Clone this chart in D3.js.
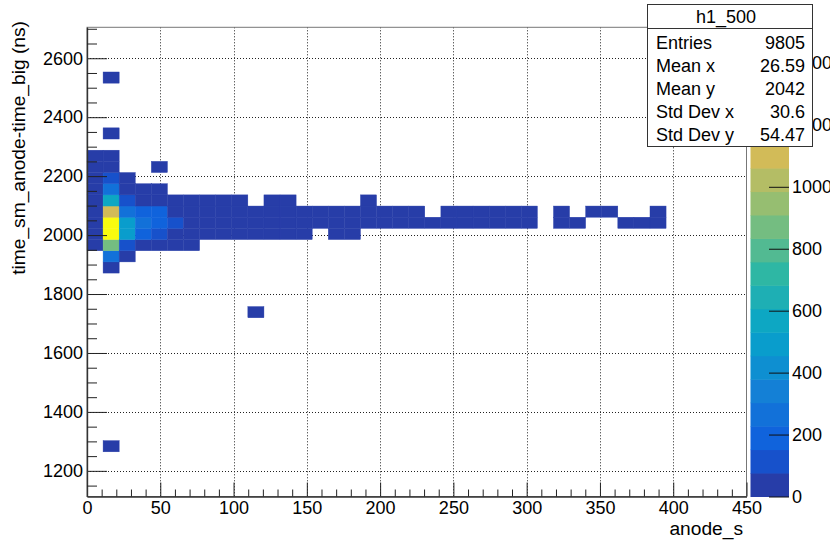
<!DOCTYPE html>
<html>
<head>
<meta charset="utf-8">
<script src="https://cdn.jsdelivr.net/npm/d3@7"></script>
<style>
  body { margin: 0; background: #fff; }
  svg { display: block; }
  text { font-family: "Liberation Sans", Arial, Helvetica, sans-serif; fill: #000; }
</style>
</head>
<body>
<svg id="chart" width="830" height="540"></svg>
<script>
// ---- histogram h1_500 : anode_s vs time_sm_anode-time_big ----
const xRange = [0, 450];
const nBinsX = 41;
const yRange = [1113, 2705];
const nBinsY = 42;

// filled cells, stored as vertical runs: x bin, first y bin (from bottom), entries going up
const runBinX = [0, 1, 1, 1, 1, 2, 3, 4, 4, 5, 6, 7, 8, 9, 10, 10, 11, 12, 13, 14, 15, 16, 17, 18, 19, 20,
                 21, 22, 23, 24, 25, 26, 27, 29, 30, 31, 32, 33, 34, 35];
const runBinY = [22, 4, 20, 32, 37, 21, 22, 22, 29, 22, 22, 23, 23, 23, 23, 16, 23, 23, 23, 24, 23, 23, 24, 24, 24, 24,
                 24, 24, 24, 24, 24, 24, 24, 24, 24, 25, 25, 24, 24, 24];
const runCounts = [
  [30, 45, 50, 48, 40, 35, 30, 25, 20],
  [1],
  [40, 240, 850, 1450, 1515, 1090, 550, 240, 100, 35, 22],
  [1],
  [1],
  [30, 110, 470, 465, 235, 100, 50, 35],
  [40, 170, 240, 200, 50, 25],
  [30, 110, 190, 160, 40, 20],
  [2],
  [15, 60, 130, 65, 25],
  [8, 40, 65, 50, 20],
  [20, 45, 40, 15],
  [18, 40, 35, 12],
  [15, 38, 32, 10],
  [12, 30, 25],
  [1],
  [10, 28, 24, 6],
  [9, 26, 22, 5],
  [8, 24, 20],
  [22, 18],
  [6, 20, 16],
  [5, 19, 15],
  [17, 14, 3],
  [16, 12],
  [15, 11],
  [14, 10],
  [12],
  [12, 8],
  [11, 8],
  [10, 7],
  [10, 7],
  [9, 6],
  [8, 5],
  [6, 3],
  [5],
  [3],
  [3],
  [3],
  [3],
  [2, 2]
];

// axis ticks
const xTicks = [0, 50, 100, 150, 200, 250, 300, 350, 400, 450];
const yTicks = [1200, 1400, 1600, 1800, 2000, 2200, 2400, 2600];
const zTicks = [0, 200, 400, 600, 800, 1000, 1200, 1400];

// statistics box
const statsTitle = "h1_500";
const statsNames = ["Entries", "Mean x", "Mean y", "Std Dev x", "Std Dev y"];
const statsValues = ["9805", "26.59", "2042", "30.6", "54.47"];

// ---- layout ----
const frame = { left: 87, right: 746.5, top: 27.3, bottom: 496.5 };
const bar = { left: 750.5, right: 789 };
const nContours = 20;

const svg = d3.select("#chart");

const x = d3.scaleLinear().domain(xRange).range([frame.left, frame.right]);
const y = d3.scaleLinear().domain(yRange).range([frame.bottom, frame.top]);

// expand runs into cells
const cells = [];
runBinX.forEach((bx, k) => {
  runCounts[k].forEach((n, j) => cells.push({ ix: bx, iy: runBinY[k] + j, n }));
});

const zMax = d3.max(cells, d => d.n);
const z = d3.scaleLinear().domain([0, zMax]).range([frame.bottom, frame.top]);

// kBird palette
const birdStops = [0.0000, 0.1250, 0.2500, 0.3750, 0.5000, 0.6250, 0.7500, 0.8750, 1.0000];
const birdR = [0.2082, 0.0592, 0.0780, 0.0232, 0.1802, 0.5301, 0.8186, 0.9956, 0.9764];
const birdG = [0.1664, 0.3599, 0.5041, 0.6419, 0.7178, 0.7492, 0.7328, 0.7862, 0.9832];
const birdB = [0.5293, 0.8684, 0.8385, 0.7914, 0.6425, 0.4662, 0.3499, 0.1968, 0.0539];
const bird = d3.scaleLinear()
  .domain(birdStops)
  .range(birdStops.map((s, i) => d3.rgb(birdR[i] * 255, birdG[i] * 255, birdB[i] * 255).toString()))
  .interpolate(d3.interpolateRgb);

const nPalette = 255;
function levelColor(level) {
  const idx = Math.floor((level + 0.99) * nPalette / nContours);
  return bird(Math.min(idx, nPalette - 1) / (nPalette - 1));
}
function levelOf(n) {
  return Math.min(nContours - 1, Math.floor(0.01 + n * nContours / zMax));
}

const bwX = (xRange[1] - xRange[0]) / nBinsX;
const bwY = (yRange[1] - yRange[0]) / nBinsY;

// ---- grid ----
const grid = svg.append("g").attr("stroke", "#222").attr("stroke-width", 1)
  .attr("stroke-dasharray", "1,2");
grid.selectAll("line.gx").data(xTicks.filter(t => t > xRange[0] && t < xRange[1]))
  .join("line")
  .attr("x1", d => Math.round(x(d)) + 0.5).attr("x2", d => Math.round(x(d)) + 0.5)
  .attr("y1", frame.top).attr("y2", frame.bottom);
grid.selectAll("line.gy").data(yTicks)
  .join("line")
  .attr("y1", d => Math.round(y(d)) + 0.5).attr("y2", d => Math.round(y(d)) + 0.5)
  .attr("x1", frame.left).attr("x2", frame.right);

// ---- cells ----
svg.append("g").selectAll("rect").data(cells).join("rect")
  .attr("x", d => x(xRange[0] + d.ix * bwX))
  .attr("width", d => x(xRange[0] + (d.ix + 1) * bwX) - x(xRange[0] + d.ix * bwX))
  .attr("y", d => y(yRange[0] + (d.iy + 1) * bwY))
  .attr("height", d => y(yRange[0] + d.iy * bwY) - y(yRange[0] + (d.iy + 1) * bwY))
  .attr("fill", d => levelColor(levelOf(d.n)))
  .attr("stroke", d => levelColor(levelOf(d.n)))
  .attr("stroke-width", 0.4);

// ---- frame ----
svg.append("rect")
  .attr("x", frame.left).attr("y", frame.top)
  .attr("width", frame.right - frame.left).attr("height", frame.bottom - frame.top)
  .attr("fill", "none").attr("stroke", "#777").attr("stroke-width", 1);

// ---- axes (ticks point inward) ----
const fontSize = 18;
const titleSize = 19.2;

const xAxis = svg.append("g").attr("transform", `translate(0,${frame.bottom})`)
  .call(d3.axisBottom(x).tickValues(xTicks).tickFormat(d3.format("d"))
    .tickSizeInner(-14).tickSizeOuter(0).tickPadding(5));
const xMinor = svg.append("g").attr("transform", `translate(0,${frame.bottom})`)
  .call(d3.axisBottom(x).tickValues(d3.range(0, 451, 10).filter(v => v % 50 !== 0))
    .tickFormat("").tickSizeInner(-7).tickSizeOuter(0));

const yAxis = svg.append("g").attr("transform", `translate(${frame.left},0)`)
  .call(d3.axisLeft(y).tickValues(yTicks).tickFormat(d3.format("d"))
    .tickSizeInner(-20).tickSizeOuter(0).tickPadding(4));
const yMinor = svg.append("g").attr("transform", `translate(${frame.left},0)`)
  .call(d3.axisLeft(y).tickValues(d3.range(1150, 2701, 50).filter(v => v % 200 !== 0))
    .tickFormat("").tickSizeInner(-10).tickSizeOuter(0));

[xAxis, xMinor, yAxis, yMinor].forEach(g => {
  g.select(".domain").attr("stroke", "#333").attr("stroke-width", 1.2);
  g.selectAll(".tick line").attr("stroke", "#222");
  g.selectAll("text").attr("font-size", fontSize)
    .attr("font-family", "Liberation Sans, Arial, sans-serif").attr("fill", "#000");
});

// axis titles
svg.append("text")
  .attr("x", 743).attr("y", 535)
  .attr("text-anchor", "end").attr("font-size", titleSize)
  .text("anode_s");
svg.append("text")
  .attr("transform", "translate(25,21) rotate(-90)")
  .attr("text-anchor", "end").attr("font-size", titleSize)
  .text("time_sm_anode-time_big (ns)");

// ---- colour bar ----
const levels = d3.range(nContours);
const dz = zMax / nContours;
svg.append("g").selectAll("rect").data(levels).join("rect")
  .attr("x", bar.left).attr("width", bar.right - bar.left)
  .attr("y", d => z((d + 1) * dz))
  .attr("height", d => z(d * dz) - z((d + 1) * dz) + 0.5)
  .attr("fill", d => levelColor(d));

const zAxis = svg.append("g").attr("transform", `translate(${bar.right},0)`)
  .call(d3.axisRight(z).tickValues(zTicks).tickFormat(d3.format("d"))
    .tickSizeInner(-20).tickSizeOuter(0).tickPadding(3));
zAxis.select(".domain").remove();
zAxis.selectAll(".tick line").attr("stroke", "#111");
zAxis.selectAll("text").attr("font-size", fontSize)
  .attr("font-family", "Liberation Sans, Arial, sans-serif").attr("fill", "#000");

// ---- statistics box (drawn over the top of the colour-bar labels) ----
const stats = svg.append("g");
const box = { x: 647.5, y: 4.5, w: 165, h: 142, titleH: 24 };
stats.append("rect")
  .attr("x", box.x).attr("y", box.y).attr("width", box.w).attr("height", box.h)
  .attr("fill", "#fff").attr("stroke", "#333").attr("stroke-width", 1);
stats.append("line")
  .attr("x1", box.x).attr("x2", box.x + box.w)
  .attr("y1", box.y + box.titleH).attr("y2", box.y + box.titleH)
  .attr("stroke", "#333");
stats.append("text")
  .attr("x", box.x + box.w / 2 - 4).attr("y", 23)
  .attr("text-anchor", "middle").attr("font-size", fontSize)
  .text(statsTitle);
const rowY = d3.scaleLinear().domain([0, statsNames.length - 1]).range([48.5, 141]);
stats.selectAll("text.name").data(statsNames).join("text")
  .attr("class", "name")
  .attr("x", 656).attr("y", (d, i) => rowY(i))
  .attr("font-size", fontSize).text(d => d);
stats.selectAll("text.val").data(statsValues).join("text")
  .attr("class", "val")
  .attr("x", 805).attr("y", (d, i) => rowY(i))
  .attr("text-anchor", "end").attr("font-size", fontSize).text(d => d);
</script>
</body>
</html>
